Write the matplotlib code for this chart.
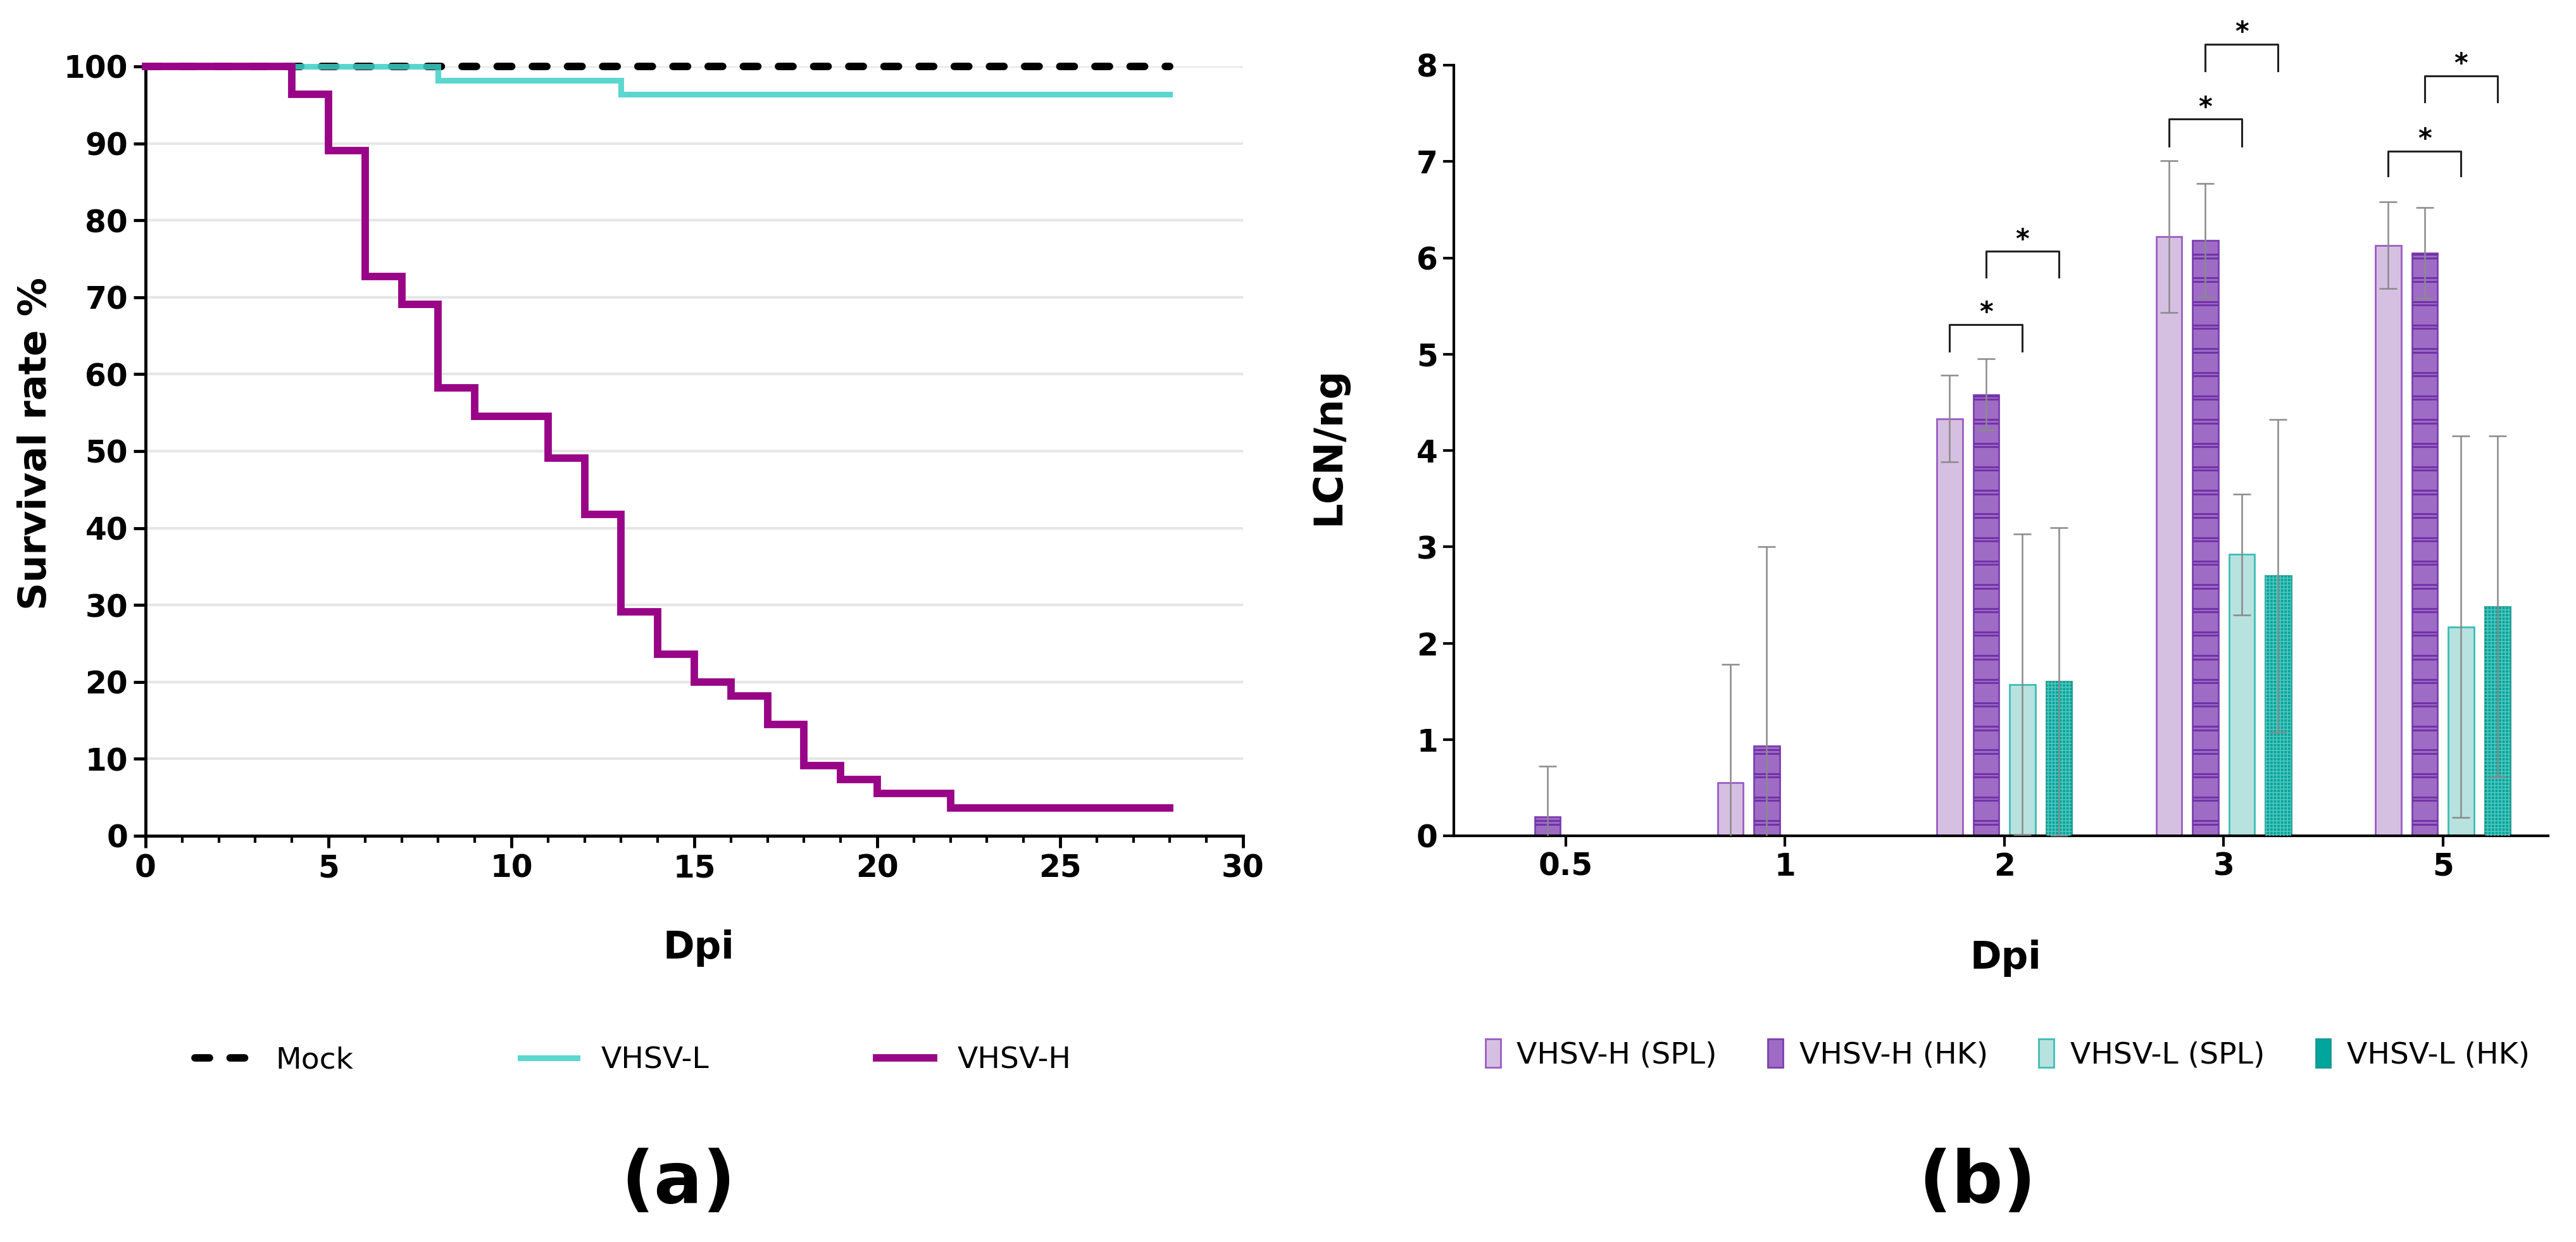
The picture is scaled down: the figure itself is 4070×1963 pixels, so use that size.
import numpy as np
import matplotlib
matplotlib.use("Agg")
import matplotlib.pyplot as plt
from matplotlib.patches import Patch
from matplotlib.ticker import MultipleLocator

plt.rcParams['font.family'] = ['DejaVu Sans']
plt.rcParams['hatch.linewidth'] = 1.2
plt.rcParams['lines.scale_dashes'] = False

# ---------------- data: panel (a) survival ----------------
mock_days = [0, 28]
mock_surv = [100, 100]
vl_days = [0, 8, 13, 28]
vl_surv = [100, 98.2, 96.4, 96.4]
vh_days = [0, 4, 5, 6, 7, 8, 9, 11, 12, 13, 14, 15, 16, 17, 18, 19, 20, 22, 28]
vh_surv = [100, 96.4, 89.1, 72.7, 69.1, 58.2, 54.5, 49.1, 41.8, 29.1, 23.6,
           20.0, 18.2, 14.5, 9.1, 7.3, 5.5, 3.6, 3.6]

# ---------------- data: panel (b) LCN/ng ----------------
dpi_labels = ['0.5', '1', '2', '3', '5']
series_names = ['VHSV-H (SPL)', 'VHSV-H (HK)', 'VHSV-L (SPL)', 'VHSV-L (HK)']
h_spl = [np.nan, 0.55, 4.33, 6.22, 6.13]
h_spl_err = [np.nan, 1.23, 0.45, 0.79, 0.45]
h_hk = [0.20, 0.93, 4.58, 6.18, 6.05]
h_hk_err = [0.52, 2.07, 0.37, 0.59, 0.47]
l_spl = [np.nan, np.nan, 1.57, 2.92, 2.17]
l_spl_err = [np.nan, np.nan, 1.56, 0.63, 1.98]
l_hk = [np.nan, np.nan, 1.60, 2.70, 2.38]
l_hk_err = [np.nan, np.nan, 1.60, 1.62, 1.77]

# significance brackets: group index, series from, series to, bar height, leg bottom
sig_group = [2, 2, 3, 3, 4, 4]
sig_from = [0, 1, 0, 1, 0, 1]
sig_to = [2, 3, 2, 3, 2, 3]
sig_top = [5.31, 6.07, 7.44, 8.22, 7.11, 7.89]
sig_leg = [5.03, 5.80, 7.16, 7.94, 6.85, 7.62]

# ---------------- figure ----------------
W, H = 4070, 1963
fig = plt.figure(figsize=(W / 100, H / 100), dpi=100)

def fx(px):
    return px / W

def fy(py):
    return 1 - py / H

axa = fig.add_axes([fx(230), fy(1321), fx(1964 - 230), (1321 - 105) / H])
axb = fig.add_axes([fx(2297), fy(1321), fx(4026 - 2297), (1321 - 103) / H])

mag = '#990587'
turq = '#3ED0C8'

# ---- panel a ----
axa.plot(mock_days, mock_surv, color='black', lw=8.5, linestyle=(0, (16.5, 23.5)),
         dash_capstyle='round', zorder=3, clip_on=False, label='Mock')
axa.step(vl_days, vl_surv, where='post', color=turq, lw=6.5, alpha=0.85,
         solid_joinstyle='miter', zorder=4, clip_on=False, label='VHSV-L')
axa.step(vh_days, vh_surv, where='post', color=mag, lw=8.5,
         solid_joinstyle='miter', zorder=5, clip_on=False, label='VHSV-H')

axa.set_xlim(0, 30)
axa.set_ylim(0, 100)
axa.xaxis.set_major_locator(MultipleLocator(5))
axa.xaxis.set_minor_locator(MultipleLocator(1))
axa.yaxis.set_major_locator(MultipleLocator(10))
axa.grid(axis='y', color='#e6e6e6', lw=3, zorder=0)
axa.set_axisbelow(True)
for s in ['top', 'right']:
    axa.spines[s].set_visible(False)
for s in ['left', 'bottom']:
    axa.spines[s].set_linewidth(3.5)
axa.tick_params(axis='both', which='major', length=14, width=3.5, labelsize=35, pad=6)
axa.tick_params(axis='x', which='minor', length=8, width=3)
for lab in axa.get_xticklabels() + axa.get_yticklabels():
    lab.set_fontweight('bold')
axa.set_xlabel('Dpi', fontsize=43, fontweight='bold', va='center')
axa.xaxis.set_label_coords(0.504, -0.146)
axa.set_ylabel('Survival rate %', fontsize=44, fontweight='bold', va='center')
axa.yaxis.set_label_coords(-0.10, 0.51)

# ---- panel b ----
x = np.arange(len(dpi_labels))
offsets = np.array([-1.5, -0.5, 0.5, 1.5]) * 0.166
bw = 0.116
vals = [h_spl, h_hk, l_spl, l_hk]
errs = [h_spl_err, h_hk_err, l_spl_err, l_hk_err]
faces = ['#D6C0E2', '#9E6CC4', '#B7E2E0', '#00A59C']
edges = ['#9A5CC6', '#7D3FB0', '#3DBDB5', '#149A92']

for i in range(4):
    v = np.array(vals[i], dtype=float)
    e = np.array(errs[i], dtype=float)
    m = ~np.isnan(v)
    xs = x[m] + offsets[i]
    axb.bar(xs, v[m], width=bw, color=faces[i], edgecolor=edges[i], lw=2, zorder=2)
    if i == 1:
        # banded horizontal texture of the HK bars
        for xc, hv in zip(xs, v[m]):
            for yb in np.arange(0.12, hv - 0.04, 0.245):
                axb.hlines([yb, yb + 0.035], xc - bw / 2, xc + bw / 2,
                           color='#7232A8', lw=2.2, zorder=3)
    if i == 3:
        axb.bar(xs, v[m], width=bw, color='none', edgecolor='#55C6BE', lw=0,
                hatch='+++', zorder=3)
    axb.errorbar(xs, v[m], yerr=e[m], fmt='none', ecolor='#8a8a8a', elinewidth=1.8,
                 capsize=10, capthick=1.8, zorder=4)

for g, a, b, top, leg in zip(sig_group, sig_from, sig_to, sig_top, sig_leg):
    x0 = x[g] + offsets[a]
    x1 = x[g] + offsets[b]
    axb.plot([x0, x0, x1, x1], [leg, top, top, leg], color='#222222', lw=2.2,
             clip_on=False, zorder=5)
    axb.text((x0 + x1) / 2, top + 0.035, '*', ha='center', va='baseline',
             fontsize=30, fontweight='bold', clip_on=False)

axb.set_xlim(-0.51, 4.48)
axb.set_ylim(0, 8)
axb.set_xticks(x)
axb.set_xticklabels(dpi_labels)
axb.yaxis.set_major_locator(MultipleLocator(1))
for s in ['top', 'right']:
    axb.spines[s].set_visible(False)
for s in ['left', 'bottom']:
    axb.spines[s].set_linewidth(3.0)
axb.tick_params(axis='both', which='major', length=12, width=3, labelsize=35, pad=6)
for lab in axb.get_xticklabels() + axb.get_yticklabels():
    lab.set_fontweight('bold')
axb.set_xlabel('Dpi', fontsize=43, fontweight='bold', va='center')
axb.xaxis.set_label_coords(0.504, -0.159)
axb.set_ylabel('LCN/ng', fontsize=45, fontweight='bold', va='center')
axb.yaxis.set_label_coords(-0.1145, 0.506)

# ---- legends ----
ha, la = axa.get_legend_handles_labels()
fig.legend(ha, la, loc='center', bbox_to_anchor=(fx(1000), fy(1676)), ncol=3,
           frameon=False, fontsize=34, handlelength=1.9, handletextpad=0.8,
           columnspacing=5.6)

hb = [Patch(facecolor=faces[i], edgecolor=edges[i], lw=2) for i in range(4)]
fig.legend(hb, series_names, loc='center', bbox_to_anchor=(fx(3172), fy(1666)),
           ncol=4, frameon=False, fontsize=34, handlelength=0.5, handleheight=1.1,
           handletextpad=0.55, columnspacing=1.7)

fig.text(fx(1072), fy(1870), '(a)', ha='center', va='center', fontsize=82,
         fontweight='bold')
fig.text(fx(3124), fy(1870), '(b)', ha='center', va='center', fontsize=82,
         fontweight='bold')

fig.savefig('out.png', dpi=100, facecolor='white')
